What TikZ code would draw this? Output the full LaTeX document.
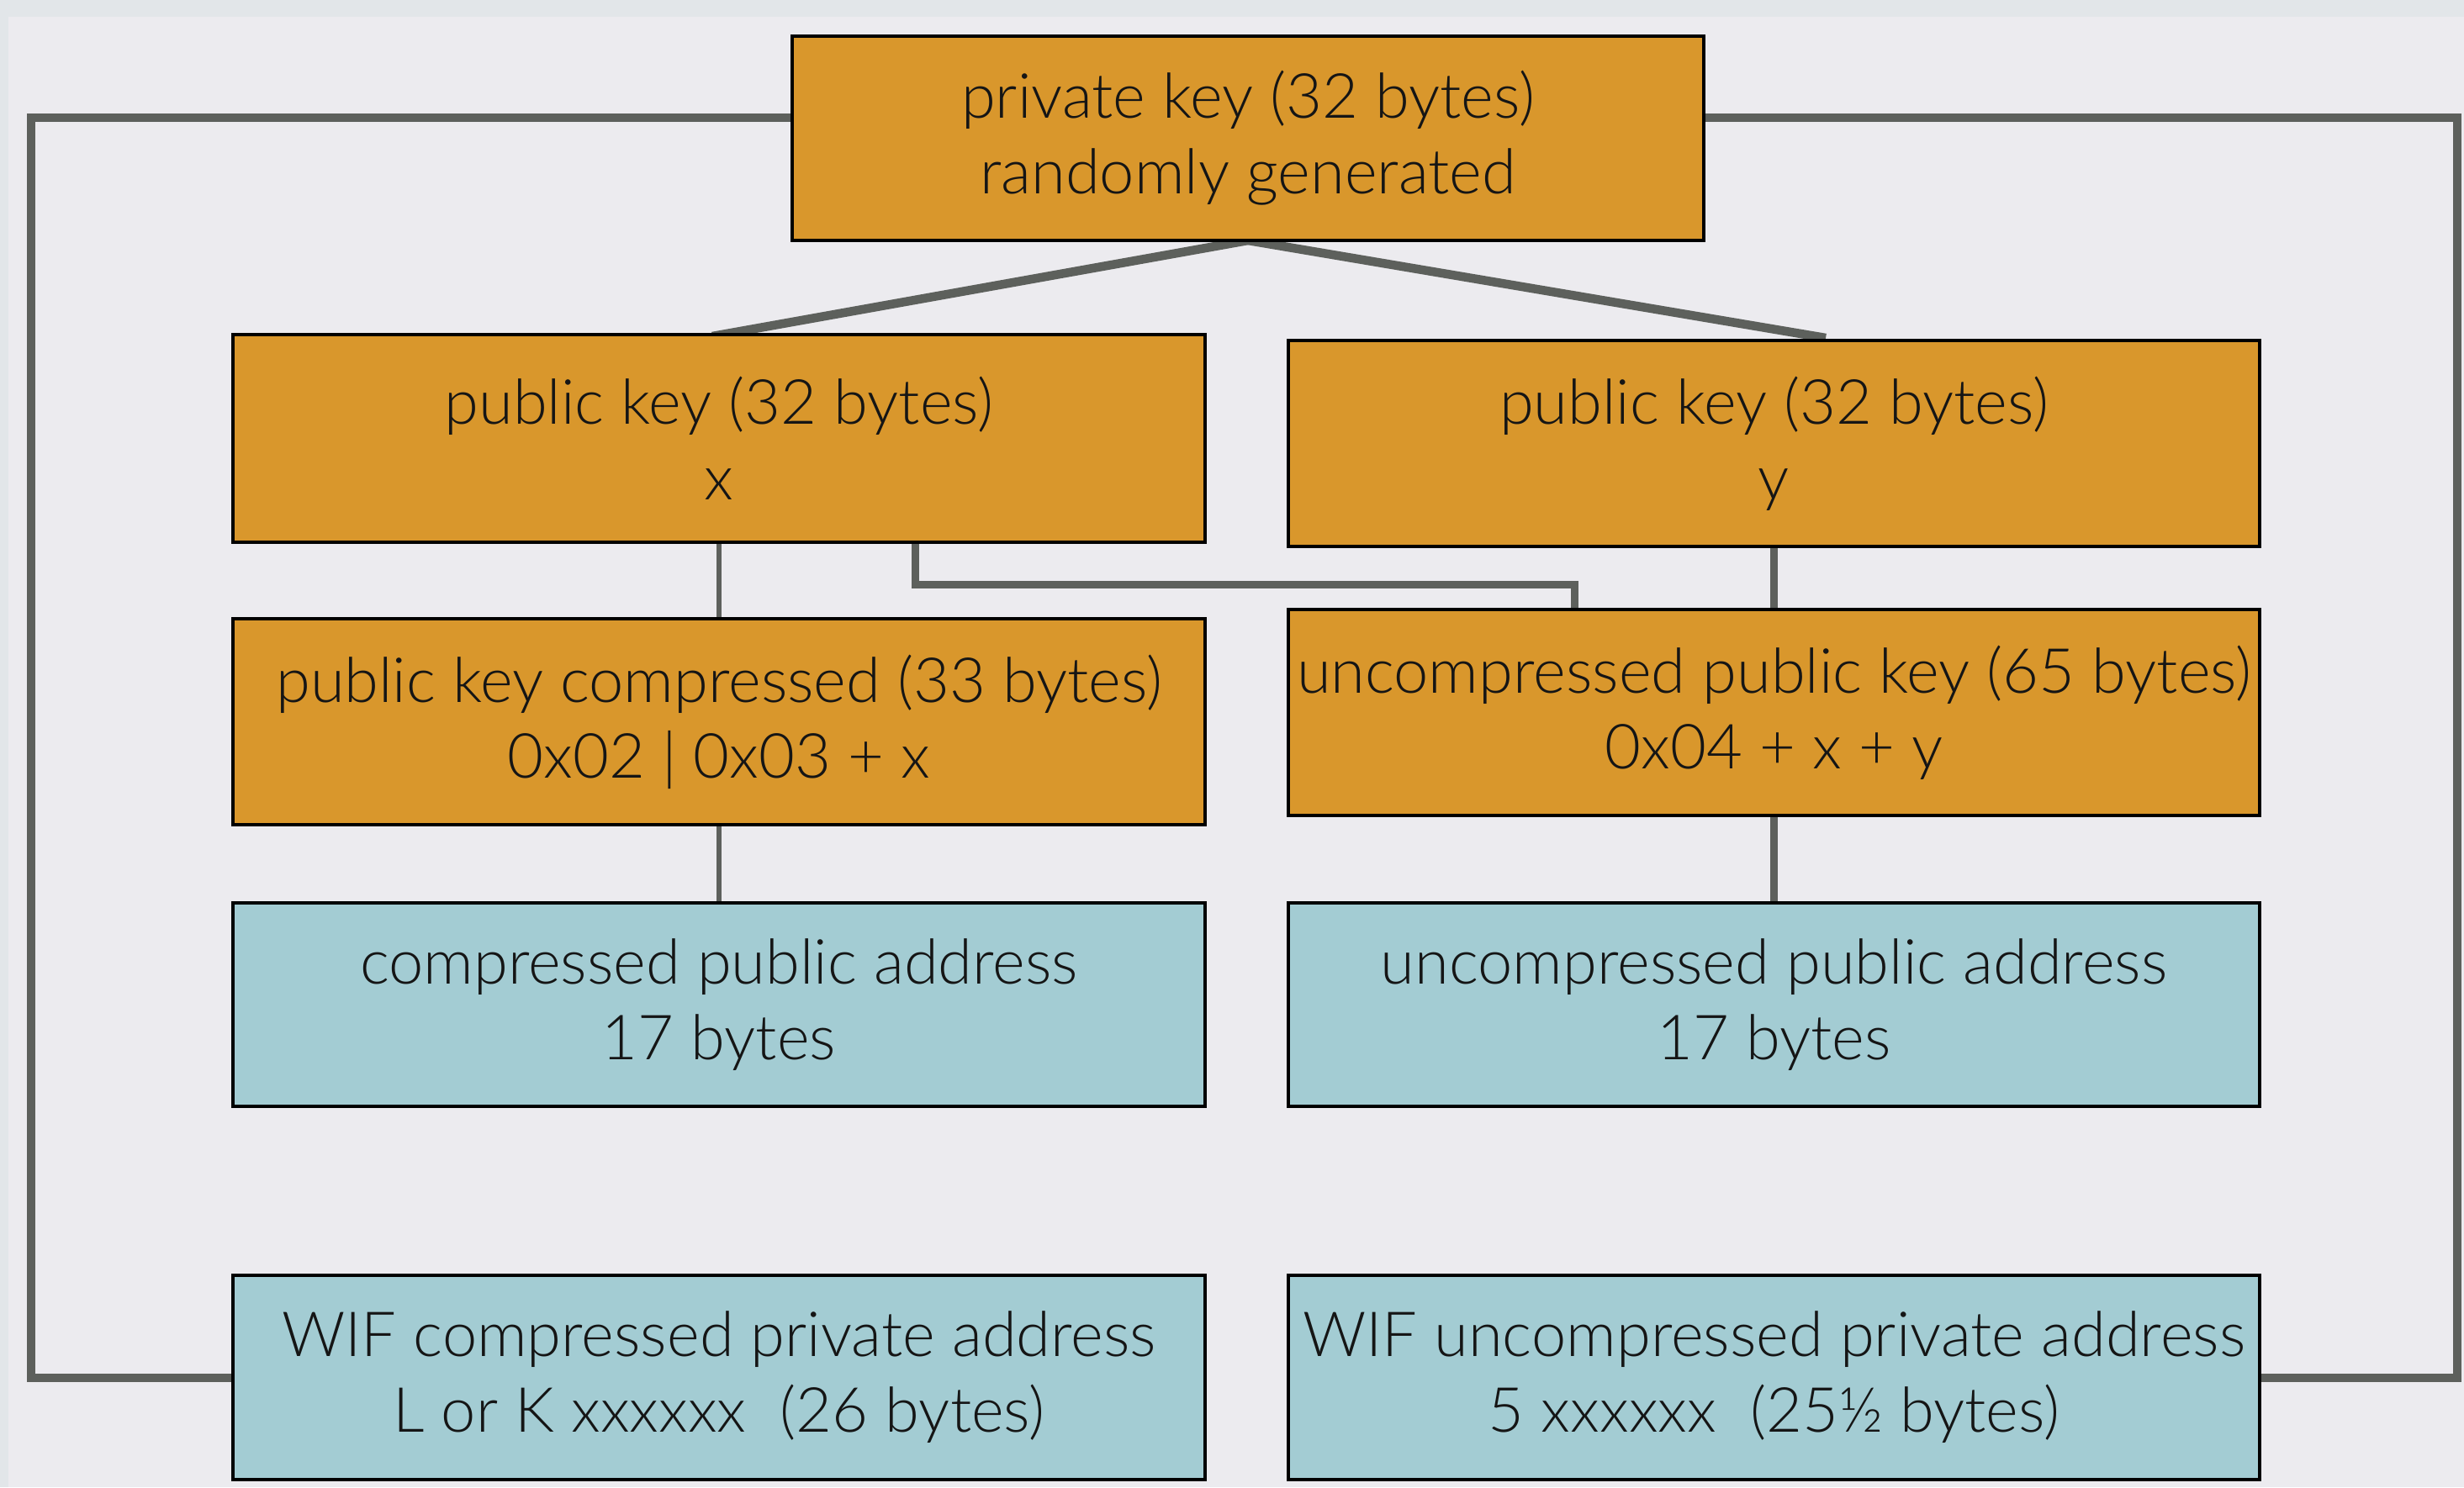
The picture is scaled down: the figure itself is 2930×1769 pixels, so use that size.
\documentclass[tikz,border=0pt]{standalone}
\usepackage{fontspec}
\setmainfont{Lato Light}
\usetikzlibrary{backgrounds}
\definecolor{bgouter}{HTML}{E2E6E9}
\definecolor{bginner}{HTML}{ECEBEF}
\definecolor{orangebox}{HTML}{D9972C}
\definecolor{bluebox}{HTML}{A3CCD3}
\definecolor{wire}{HTML}{5D605C}
\definecolor{ink}{HTML}{151515}
\tikzset{
  boxbase/.style={draw=black, line width=3.5pt, inner sep=0pt, outer sep=0pt,
    align=center, text=ink, font=\fontsize{74}{90}\selectfont},
  obox/.style={boxbase, fill=orangebox},
  bbox/.style={boxbase, fill=bluebox},
  wirethick/.style={draw=wire, line width=10.5pt},
  wiremid/.style={draw=wire, line width=9pt},
  wirethin/.style={draw=wire, line width=6.5pt},
}
\begin{document}
\begin{tikzpicture}[x=1pt,y=-1pt]
\useasboundingbox (0,0) rectangle (2930,1769);

\node[obox, minimum width=1084pt, minimum height=243pt] (pk) at (1484,164.5)
  {private key (32 bytes)\\randomly generated};
\node[obox, minimum width=1156pt, minimum height=247pt] (pubx) at (855,521.5)
  {public key (32 bytes)\\x};
\node[obox, minimum width=1155pt, minimum height=245pt] (puby) at (2109.5,527.5)
  {public key (32 bytes)\\y};
\node[obox, minimum width=1156pt, minimum height=245pt] (pcomp) at (855,858.5)
  {public key compressed (33 bytes)\\0x02 | 0x03 + x};
\node[obox, minimum width=1155pt, minimum height=245pt] (puncomp) at (2109.5,847.5)
  {uncompressed public key (65 bytes)\\0x04 + x + y};
\node[bbox, minimum width=1156pt, minimum height=242pt] (caddr) at (855,1195)
  {compressed public address\\17 bytes};
\node[bbox, minimum width=1155pt, minimum height=242pt] (uaddr) at (2109.5,1195)
  {uncompressed public address\\17 bytes};
\node[bbox, minimum width=1156pt, minimum height=243pt] (wifc) at (855,1638.5)
  {WIF compressed private address\\L or K xxxxxx\ \ (26 bytes)};
\node[bbox, minimum width=1155pt, minimum height=243pt] (wifu) at (2109.5,1638.5)
  {WIF uncompressed private address\\5 xxxxxx\ \ (25½ bytes)};

\coordinate (lt) at (37,140);
\coordinate (lb) at (37,1639);
\coordinate (rt) at (2922,140);
\coordinate (rb) at (2922,1639);
\coordinate (xa) at (847,400);
\coordinate (ya) at (2171,402);
\coordinate (k1) at (1088,695);
\coordinate (k2) at (1872,695);

\begin{scope}[on background layer]
  \fill[bgouter] (0,0) rectangle (2930,1769);
  \fill[bginner] (10,20) rectangle (2930,1769);
  \draw[wirethick, line join=miter] (pk.south) -- (xa);
  \draw[wirethick, line join=miter] (pk.south) -- (ya);
  \draw[wirethick] (pk.west |- lt) -- (lt) -- (lb) -- (wifc.west |- lb);
  \draw[wirethick] (pk.east |- rt) -- (rt) -- (rb) -- (wifu.east |- rb);
  \draw[wirethin] (pubx.south) -- (pcomp.north);
  \draw[wiremid] (pubx.south -| k1) -- (k1) -- (k2) -- (puncomp.north -| k2);
  \draw[wiremid] (puby.south) -- (puncomp.north);
  \draw[wirethin] (pcomp.south) -- (caddr.north);
  \draw[wiremid] (puncomp.south) -- (uaddr.north);
\end{scope}
\end{tikzpicture}
\end{document}
